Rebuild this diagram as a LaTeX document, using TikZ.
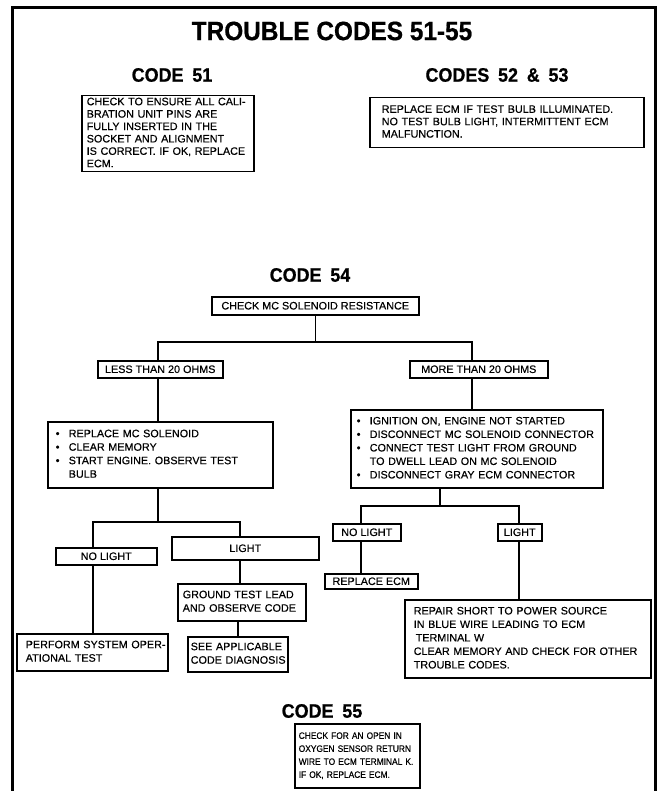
\documentclass[tikz,border=0pt]{standalone}
\usepackage{fontspec}
\setmainfont[FakeBold=0.35]{Liberation Sans}
\newfontfamily\headfont[FakeStretch=0.92,FakeBold=0.6]{Liberation Sans}
\newfontfamily\narrowfont[FakeStretch=0.9,FakeBold=0.35]{Liberation Sans}
% a left-aligned block of lines that never breaks on its own
\newcommand\boxlines[1]{\begin{tabular}{@{}l@{}}#1\end{tabular}}
\newcommand\bul{\makebox[13pt][l]{\textbullet}}
\newcommand\nobul{\hspace*{13pt}}

\begin{document}
\begin{tikzpicture}[x=1pt,y=-1pt,
  txt/.style={font=\fontsize{10.8}{13.5}\selectfont},
  box/.style={txt, draw=black, line width=1.5pt, rectangle, inner ysep=0pt},
  leftbox/.style={box, anchor=north west, align=left},
  tag/.style={box, anchor=north west, inner sep=0pt, align=center},
  head/.style={font=\headfont\bfseries\fontsize{19.5}{19.5}\selectfont, inner sep=0pt},
  title/.style={font=\headfont\bfseries\fontsize{26.5}{26.5}\selectfont, inner sep=0pt},
  link/.style={draw=black, line width=1.5pt},
  frame/.style={draw=black, line width=3pt}
]
\useasboundingbox (0,0) rectangle (664,791);

% outer frame, open at the bottom edge
\draw[frame] (12,800) -- (12,8) -- (655,8) -- (655,800);

% headings
\node[title] (ttl) at (332,31) {TROUBLE CODES 51-55};
\node[head] (h51) at (172,75) {CODE\hspace{0.45em}51};
\node[head] (h52) at (497,75) {CODES\hspace{0.45em}52\hspace{0.45em}\&\hspace{0.45em}53};
\node[head] (h54) at (310,275) {CODE\hspace{0.45em}54};
\node[head] (h55) at (322,711) {CODE\hspace{0.45em}55};

% code 51 and codes 52 & 53
\node[leftbox, inner xsep=5pt, text width=162pt, minimum height=76pt,
      font=\fontsize{10.8}{12.4}\selectfont] (c51) at (81,95)
  {\boxlines{CHECK TO ENSURE ALL CALI-\\BRATION UNIT PINS ARE\\FULLY INSERTED IN THE\\SOCKET AND ALIGNMENT\\IS CORRECT. IF OK, REPLACE\\ECM.}};
\node[leftbox, inner xsep=12pt, text width=250pt, minimum height=50pt,
      font=\fontsize{10.8}{12.4}\selectfont] (c52) at (369,97)
  {\boxlines{REPLACE ECM IF TEST BULB ILLUMINATED.\\NO TEST BULB LIGHT, INTERMITTENT ECM\\MALFUNCTION.}};

% code 54 tree
\node[tag, minimum width=207pt, minimum height=18pt] (chk) at (211,296) {CHECK MC SOLENOID RESISTANCE};
\node[tag, minimum width=125pt, minimum height=17pt] (less) at (97,360) {LESS THAN 20 OHMS};
\node[tag, minimum width=138pt, minimum height=17pt] (more) at (409,360) {MORE THAN 20 OHMS};

\node[leftbox, inner xsep=8pt, text width=209pt, minimum height=66pt] (bulL) at (47,421)
  {\boxlines{\bul REPLACE MC SOLENOID\\\bul CLEAR MEMORY\\\bul START ENGINE. OBSERVE TEST\\\nobul BULB}};
\node[leftbox, inner xsep=6pt, text width=240pt, minimum height=78pt] (bulR) at (350,409)
  {\boxlines{\bul IGNITION ON, ENGINE NOT STARTED\\\bul DISCONNECT MC SOLENOID CONNECTOR\\\bul CONNECT TEST LIGHT FROM GROUND\\\nobul TO DWELL LEAD ON MC SOLENOID\\\bul DISCONNECT GRAY ECM CONNECTOR}};

\node[tag, minimum width=101pt, minimum height=17pt] (nlL) at (55,547) {NO LIGHT};
\node[tag, minimum width=147pt, minimum height=23pt] (ltL) at (171,536) {LIGHT};
\node[tag, minimum width=68pt, minimum height=17pt] (nlR) at (332,523) {NO LIGHT};
\node[tag, minimum width=44pt, minimum height=17pt] (ltR) at (497,523) {LIGHT};

\node[leftbox, inner xsep=5pt, text width=118pt, minimum height=37pt] (gnd) at (177,583)
  {\boxlines{GROUND TEST LEAD\\AND OBSERVE CODE}};
\node[leftbox, inner xsep=3pt, text width=94pt, minimum height=35pt] (see) at (187,636)
  {\boxlines{SEE APPLICABLE\\CODE DIAGNOSIS}};
\node[leftbox, inner xsep=9pt, text width=133pt, minimum height=37pt] (perf) at (16,633)
  {\boxlines{PERFORM SYSTEM OPER-\\ATIONAL TEST}};
\node[tag, minimum width=93pt, minimum height=15pt] (rep) at (324,573) {REPLACE ECM};
\node[leftbox, inner xsep=9pt, text width=228pt, minimum height=78pt] (fix) at (404,599)
  {\boxlines{REPAIR SHORT TO POWER SOURCE\\IN BLUE WIRE LEADING TO ECM\\\hspace*{2pt}TERMINAL W\\CLEAR MEMORY AND CHECK FOR OTHER\\TROUBLE CODES.}};

% code 55
\node[leftbox, inner xsep=4pt, text width=117pt, minimum height=64pt,
      font=\narrowfont\fontsize{9.3}{13}\selectfont] (c55) at (294,723)
  {\boxlines{CHECK FOR AN OPEN IN\\OXYGEN SENSOR RETURN\\WIRE TO ECM TERMINAL K.\\IF OK, REPLACE ECM.}};

% branch points
\coordinate (j1L) at (158,342);
\coordinate (j1R) at (472,342);
\coordinate (j2) at (158,522);
\coordinate (j2a) at (93,522);
\coordinate (j2b) at (240,522);
\coordinate (j3) at (440,506);
\coordinate (j3a) at (361,506);
\coordinate (j3b) at (519,506);

% connectors
\draw[link] (chk.south) -- (chk.south |- j1L);
\draw[link] (less.north -| j1L) -- (j1L) -- (j1R) -- (more.north -| j1R);
\draw[link] (less.south -| j1L) -- (bulL.north -| j1L);
\draw[link] (more.south -| j1R) -- (bulR.north -| j1R);

\draw[link] (bulL.south -| j2) -- (j2);
\draw[link] (nlL.north -| j2a) -- (j2a) -- (j2b) -- (ltL.north -| j2b);
\draw[link] (nlL.south -| j2a) -- (perf.north -| j2a);
\draw[link] (ltL.south -| j2b) -- (gnd.north -| j2b);
\draw[link] (gnd.south -| see.north) -- (see.north);

\draw[link] (bulR.south -| j3) -- (j3);
\draw[link] (nlR.north -| j3a) -- (j3a) -- (j3b) -- (ltR.north -| j3b);
\draw[link] (nlR.south -| j3a) -- (rep.north -| j3a);
\draw[link] (ltR.south -| j3b) -- (fix.north -| j3b);
\end{tikzpicture}
\end{document}
